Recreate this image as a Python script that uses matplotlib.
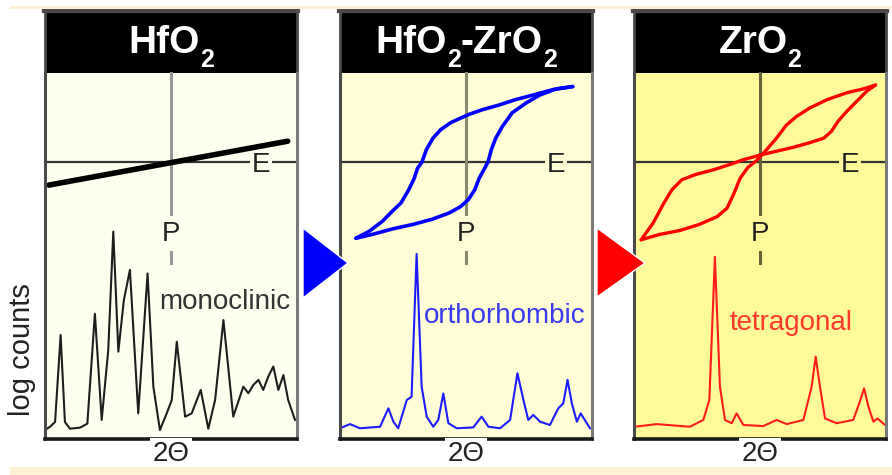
import numpy as np
import matplotlib.pyplot as plt
from matplotlib.patches import Polygon, Rectangle

plt.rcParams['font.family'] = ['Liberation Sans', 'DejaVu Sans']

W, H = 892, 475

# title pieces: (text, is_subscript)
titles = [[('HfO', False), ('2', True)],
          [('HfO', False), ('2', True), ('-ZrO', False), ('2', True)],
          [('ZrO', False), ('2', True)]]
phases = ['monoclinic', 'orthorhombic', 'tetragonal']

# P-E curves (E and P normalised to the loop tip)
hfo2_e = [-1.11, 1.06]
hfo2_p = [-0.30, 0.27]

hz_up_e = [-1.0, -0.88, -0.76, -0.67, -0.59, -0.52, -0.47, -0.44, -0.40, -0.36, -0.30, -0.23,
           -0.14, -0.05, 0.03, 0.15, 0.30, 0.45, 0.61, 0.79, 0.97]
hz_up_p = [-0.99, -0.90, -0.77, -0.64, -0.53, -0.36, -0.21, -0.08, 0.0, 0.16, 0.31, 0.42,
           0.51, 0.57, 0.62, 0.68, 0.74, 0.81, 0.87, 0.94, 0.98]
hz_dn_e = [-1.0, -0.85, -0.67, -0.48, -0.30, -0.15, -0.05, 0.02, 0.08, 0.12, 0.17, 0.20,
           0.23, 0.27, 0.33, 0.42, 0.55, 0.67, 0.82, 0.97]
hz_dn_p = [-0.99, -0.94, -0.87, -0.81, -0.74, -0.66, -0.58, -0.49, -0.36, -0.21, -0.08, 0.0,
           0.16, 0.31, 0.46, 0.64, 0.77, 0.87, 0.95, 0.98]

zr_a_e = [-1.08, -0.97, -0.88, -0.80, -0.71, -0.58, -0.42, -0.27, -0.15, 0.0, 0.15, 0.30,
          0.45, 0.58, 0.65, 0.71, 0.79, 0.88, 0.97, 1.05]
zr_a_p = [-1.01, -0.79, -0.55, -0.36, -0.23, -0.16, -0.10, -0.03, 0.03, 0.09, 0.14, 0.19,
          0.25, 0.31, 0.40, 0.53, 0.66, 0.79, 0.92, 1.0]
zr_b_e = [-1.08, -0.91, -0.73, -0.55, -0.39, -0.30, -0.24, -0.18, -0.11, -0.03, 0.06, 0.15,
          0.24, 0.33, 0.45, 0.61, 0.79, 0.94, 1.05]
zr_b_p = [-1.01, -0.94, -0.89, -0.81, -0.71, -0.60, -0.42, -0.21, -0.07, 0.02, 0.16, 0.31,
          0.48, 0.59, 0.70, 0.81, 0.90, 0.95, 1.0]

# XRD patterns (2theta in % of window, log counts in % of window)
m_2t = [0, 2.0, 4.0, 6.2, 7.9, 9.9, 13.9, 16.8, 19.8, 22.5, 25.1, 27.1, 29.1, 31.3, 33.7, 37.0,
        40.7, 43.0, 45.6, 48.3, 50.3, 52.3, 55.6, 58.2, 61.8, 64.8, 67.5, 70.8, 74.7, 78.7, 80.7,
        82.7, 84.7, 86.6, 88.6, 90.6, 92.6, 94.6, 96.5, 99.2]
m_cnt = [4.1, 5.6, 7.8, 47.5, 7.8, 4.7, 5.2, 7.0, 57.2, 8.7, 40.6, 94.7, 39.9, 63.5, 77.2, 11.7,
         75.6, 23.9, 4.1, 11.7, 17.8, 44.4, 10.2, 11.7, 22.4, 4.7, 17.8, 54.3, 10.2, 23.9, 20.9,
         24.7, 27.0, 22.4, 28.5, 33.1, 22.4, 29.2, 17.8, 8.7]

o_2t = [0, 4.0, 7.9, 15.9, 19.2, 21.2, 23.1, 26.5, 28.4, 30.4, 32.4, 34.4, 37.0, 39.0, 41.0, 43.0,
        46.3, 52.9, 56.2, 58.9, 63.5, 67.5, 70.4, 72.8, 74.7, 76.7, 79.4, 83.3, 86.6, 88.6, 90.3,
        92.0, 94.0, 95.5, 99.2]
o_cnt = [4.9, 6.8, 4.9, 5.6, 14.0, 7.9, 4.9, 17.8, 19.3, 84.5, 23.9, 10.2, 5.6, 8.7, 20.8, 7.2,
         4.9, 5.3, 10.2, 5.6, 4.9, 8.7, 30.0, 17.8, 8.7, 11.0, 7.9, 6.4, 14.0, 16.3, 27.0,
         16.3, 7.9, 11.7, 4.9]

t_2t = [0.4, 9.0, 22.2, 27.5, 29.9, 32.1, 34.1, 36.1, 38.8, 40.7, 43.4, 51.3, 56.6, 60.6, 67.2,
        70.5, 72.1, 73.8, 75.8, 80.4, 87.0, 89.4, 91.3, 93.0, 95.0, 96.6, 99.6]
t_cnt = [5.6, 6.8, 5.6, 8.7, 17.8, 83.2, 23.9, 8.7, 7.2, 11.7, 6.4, 5.9, 8.7, 6.8, 8.7,
         23.9, 37.6, 23.9, 9.4, 7.2, 8.7, 16.3, 23.1, 14.8, 7.9, 9.4, 6.4]

panel_x = [45, 340, 634]
panel_bg = ['#fffff0', '#fffdd6', '#fffa99']
p_axis_col = ['#989898', '#8a8a6c', '#66633c']
trace_col = ['#1e1e1e', '#1c1cff', '#ff1c1c']
label_col = ['#333333', '#3a3af2', '#ff3a2c']
label_pos = [(71.4, 62.6), (65.5, 56.2), (62.3, 53.0)]

loops = [[(hfo2_e, hfo2_p)],
         [(hz_up_e, hz_up_p), (hz_dn_e, hz_dn_p)],
         [(zr_a_e, zr_a_p), (zr_b_e, zr_b_p)]]
loop_col = ['black', '#0000ff', '#ff0000']
loop_lw = [4.0, 2.6, 2.4]
xrd = [(m_2t, m_cnt), (o_2t, o_cnt), (t_2t, t_cnt)]


def rect(x, y, w, h):
    return [x / W, 1 - (y + h) / H, w / W, h / H]


def px(x, y):
    return (x / W, 1 - y / H)


def draw_title(xc, y_base, pieces):
    # lay out text and subscript pieces left to right in pixels, then centre
    r = fig.canvas.get_renderer()
    items = []
    x = 0
    for s, sub in pieces:
        t = fig.text(0, 0, s, color='white', fontweight='bold',
                     fontsize=18 if sub else 28, va='baseline', ha='left', zorder=6)
        w = t.get_window_extent(r).width
        items.append((t, x, 14 if sub else 0))
        x += w
    x0 = xc - x / 2
    for t, dx, dy in items:
        t.set_position(((x0 + dx) / W, 1 - (y_base + dy) / H))


fig = plt.figure(figsize=(W / 100, H / 100), dpi=100)

# beige strips top and bottom
fig.add_artist(Rectangle(px(10, 9), 882 / W, 3 / H, transform=fig.transFigure,
                         fc='#fff1d4', ec='none', zorder=20))
fig.add_artist(Rectangle(px(10, 475), 882 / W, 8 / H, transform=fig.transFigure,
                         fc='#fff1d4', ec='none', zorder=20))

for i, x0 in enumerate(panel_x):
    bg = fig.add_axes(rect(x0, 73, 252, 366))
    bg.set_facecolor(panel_bg[i])
    bg.set_xticks([]); bg.set_yticks([])
    for s in bg.spines.values():
        s.set_visible(False)
    bg.set_zorder(0)

    # header
    hd = fig.add_axes(rect(x0, 10, 252, 63))
    hd.set_facecolor('black')
    hd.set_xticks([]); hd.set_yticks([])
    for s in hd.spines.values():
        s.set_color('#4a4a4a'); s.set_linewidth(2)
    hd.spines['top'].set_linewidth(4.5)
    hd.spines['bottom'].set_visible(False)
    draw_title(x0 + 126, 53, titles[i])

    # P-E loop
    ah = fig.add_axes(rect(x0, 73, 252, 178))
    ah.set_facecolor('none')
    ah.set_xlim(-1.145, 1.145)
    ah.set_ylim(-1.156, 1.156)
    ah.axis('off')
    ah.set_zorder(2)
    ah.axhline(0, color='#333333', lw=1.6, zorder=1)
    ah.plot([0, 0], [1.156, -1.31], color=p_axis_col[i], lw=2.2, zorder=1, clip_on=False)
    ah.text(0.82, -0.04, 'E', ha='center', va='center', fontsize=20, color='#222222', zorder=2,
            bbox=dict(fc=panel_bg[i], ec='none', pad=1.5))
    ah.text(0, -0.93, 'P', ha='center', va='center', fontsize=20, color='#222222', zorder=2,
            bbox=dict(fc=panel_bg[i], ec='none', pad=3))
    for e, p in loops[i]:
        ah.plot(e, p, color=loop_col[i], lw=loop_lw[i], zorder=3, solid_capstyle='round',
                solid_joinstyle='round')

    # XRD pattern
    ax = fig.add_axes(rect(x0, 220, 252, 219))
    ax.set_facecolor('none')
    ax.set_xlim(0, 100)
    ax.set_ylim(0, 100)
    ax.axis('off')
    ax.set_zorder(1)
    ax.plot(xrd[i][0], xrd[i][1], color=trace_col[i], lw=1.5)
    ax.text(label_pos[i][0], label_pos[i][1], phases[i], ha='center', va='center',
            fontsize=20, color=label_col[i])

    # frame
    fr = fig.add_axes(rect(x0, 73, 252, 366))
    fr.set_facecolor('none')
    fr.set_xticks([]); fr.set_yticks([])
    fr.set_zorder(3)
    fr.spines['top'].set_visible(False)
    fr.spines['left'].set_color('#4a4a4a'); fr.spines['left'].set_linewidth(2.2)
    fr.spines['right'].set_color('#7a7a7a'); fr.spines['right'].set_linewidth(2.2)
    fr.spines['bottom'].set_color('#1a1a1a'); fr.spines['bottom'].set_linewidth(2.6)

    fig.text((x0 + 126) / W, 1 - 454 / H, '2\u0398', ha='center', va='center', fontsize=20,
             color='#222222', zorder=10, bbox=dict(fc='white', ec='none', pad=2))

fig.text(22 / W, 1 - 350 / H, 'log counts', rotation=90, ha='center', va='center',
         fontsize=21, color='#222222')

# arrows between panels
fig.add_artist(Polygon([px(303, 228), px(303, 298), px(348, 263)], closed=True,
                       transform=fig.transFigure, fc='#0000ff', ec='white', lw=1, zorder=10))
fig.add_artist(Polygon([px(597, 228), px(597, 297), px(645, 263)], closed=True,
                       transform=fig.transFigure, fc='#ff0000', ec='white', lw=1, zorder=10))

fig.savefig('out.png', dpi=100)
